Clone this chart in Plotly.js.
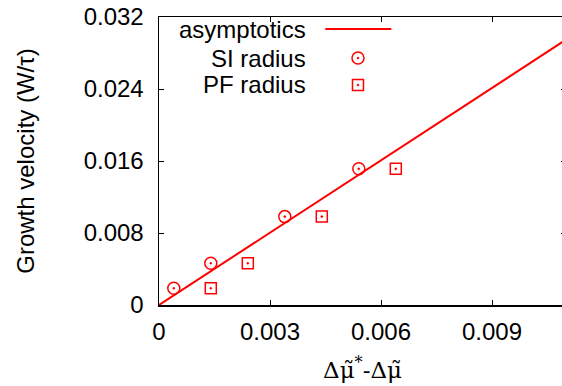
<!DOCTYPE html>
<html>
<head>
<meta charset="utf-8">
<script src="https://cdn.plot.ly/plotly-3.0.1.min.js"></script>
<style>
html,body{margin:0;padding:0;overflow:hidden;background:#fff;width:562px;height:386px;}
#chart{width:566px;height:386px;}
</style>
</head>
<body>
<div id="chart"></div>
<script>
// Data
var siX = [0.0004, 0.0014, 0.0034, 0.0054];
var siY = [0.00186, 0.00464, 0.00982, 0.01513];
var pfX = [0.0014, 0.0024, 0.0044, 0.0064];
var pfY = [0.00186, 0.00464, 0.00982, 0.01513];
var asymX = [0, 0.011];
var asymY = [0, 0.02948];
var xTickVals = [0, 0.003, 0.006, 0.009];
var xTickText = ['0', '0.003', '0.006', '0.009'];
var yTickVals = [0, 0.008, 0.016, 0.024, 0.032];
var yTickText = ['0', '0.008', '0.016', '0.024', '0.032'];
var legendNames = ['asymptotics', 'SI radius', 'PF radius'];

var red = '#ff0000';
var font = 'Liberation Sans, Arial, sans-serif';

var traces = [
  {x: asymX, y: asymY, mode: 'lines', line: {color: red, width: 2}, showlegend: false, hoverinfo: 'skip'},
  {x: siX, y: siY, mode: 'markers', marker: {symbol: 'circle-open-dot', size: 12, color: red, line: {color: red, width: 1.5}}, showlegend: false},
  {x: pfX, y: pfY, mode: 'markers', marker: {symbol: 'square-open-dot', size: 11, color: red, line: {color: red, width: 1.5}}, showlegend: false},
  // legend sample glyphs on a hidden overlay axis (0..1 paper-like)
  {x: [0.4085, 0.5708], y: [0.9583, 0.9583], xaxis: 'x2', yaxis: 'y2', mode: 'lines', line: {color: red, width: 2}, showlegend: false, hoverinfo: 'skip'},
  {x: [0.4889], y: [0.8576], xaxis: 'x2', yaxis: 'y2', mode: 'markers', marker: {symbol: 'circle-open-dot', size: 12, color: red, line: {color: red, width: 1.5}}, showlegend: false, hoverinfo: 'skip'},
  {x: [0.4889], y: [0.7639], xaxis: 'x2', yaxis: 'y2', mode: 'markers', marker: {symbol: 'square-open-dot', size: 11, color: red, line: {color: red, width: 1.5}}, showlegend: false, hoverinfo: 'skip'}
];

var axisCommon = {
  showgrid: false, zeroline: false, showline: true, linecolor: '#000', linewidth: 1.5,
  mirror: 'ticks', ticks: 'inside', ticklen: 5, tickwidth: 1, tickcolor: '#000',
  tickfont: {family: font, size: 24, color: '#000'}
};

var layout = {
  width: 566, height: 386,
  margin: {l: 159, r: 0, t: 17, b: 81},
  paper_bgcolor: '#fff', plot_bgcolor: '#fff',
  font: {family: font, color: '#000'},
  xaxis: Object.assign({}, axisCommon, {
    range: [0, 0.011], tickvals: xTickVals, ticktext: xTickText, ticklabelstandoff: 5,
    title: {text: 'Δμ̃<sup>*</sup>-Δμ̃', font: {family: 'DejaVu Serif, serif', size: 23, color: '#000'}, standoff: 17}
  }),
  yaxis: Object.assign({}, axisCommon, {
    range: [0, 0.032], tickvals: yTickVals, ticktext: yTickText, ticklabelstandoff: 9,
    title: {text: 'Growth velocity (W/τ)', font: {family: font, size: 24, color: '#000'}, standoff: 42}
  }),
  xaxis2: {overlaying: 'x', range: [0, 1], visible: false, fixedrange: true},
  yaxis2: {overlaying: 'y', range: [0, 1], visible: false, fixedrange: true},
  annotations: legendNames.map(function (n, i) {
    var ys = [0.9583, 0.8576, 0.7639];
    return {xref: 'paper', yref: 'paper', x: 0.3661, y: ys[i], xanchor: 'right', yanchor: 'middle',
      text: n, showarrow: false, font: {family: font, size: 24, color: '#000'}};
  }),
  showlegend: false
};

Plotly.newPlot('chart', traces, layout, {staticPlot: true, displayModeBar: false});
</script>
</body>
</html>
